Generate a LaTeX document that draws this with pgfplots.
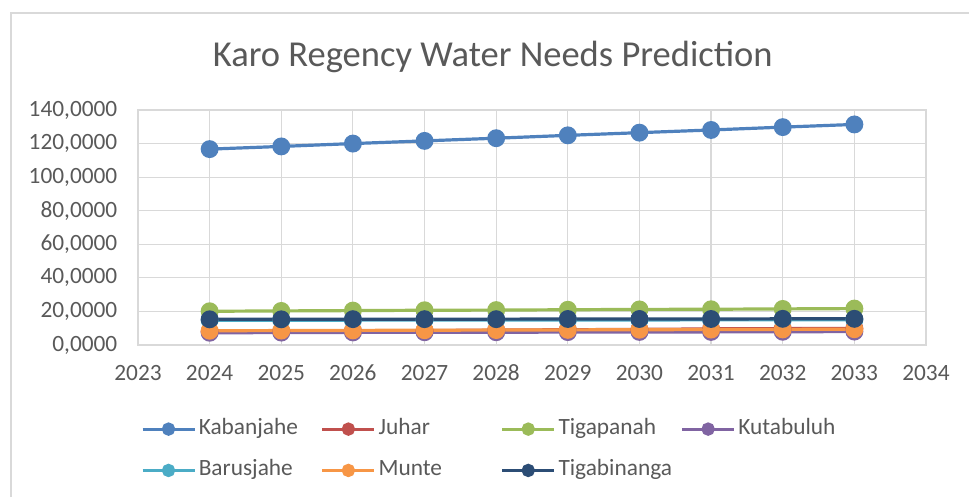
\documentclass[border=0pt]{standalone}
\usepackage{pgfplots}
\pgfplotsset{compat=1.18}
\usepackage{fontspec}
\setmainfont{Carlito}
\definecolor{cK}{HTML}{4F81BD}
\definecolor{cJ}{HTML}{C0504D}
\definecolor{cT}{HTML}{9BBB59}
\definecolor{cKu}{HTML}{8064A2}
\definecolor{cB}{HTML}{4BACC6}
\definecolor{cM}{HTML}{F79646}
\definecolor{cTb}{HTML}{2C4D75}
\definecolor{gridc}{HTML}{D9D9D9}
\definecolor{txt}{HTML}{595959}
\begin{document}
\begin{tikzpicture}
\path[use as bounding box] (0,0) rectangle (726.75pt,372.75pt);
\draw[gridc, line width=1.2pt] (8.25pt,0) -- (8.25pt,363pt) -- (726.75pt,363pt);
\node[font=\fontsize{27.4}{32}\selectfont, text=txt] at (369.5pt,330pt) {Karo Regency Water Needs Prediction};
\begin{axis}[
  at={(103.5pt,114pt)}, anchor=south west,
  scale only axis, width=591pt, height=176.25pt,
  xmin=2023, xmax=2034, ymin=0, ymax=140,
  xtick={2023,...,2034}, ytick={0,20,...,140},
  grid=major, grid style={gridc, line width=0.9pt},
  axis line style={gridc, line width=0.9pt},
  major tick length=0pt,
  tick label style={font=\fontsize{17.5}{21}\selectfont, text=txt},
  /pgf/number format/assume math mode=true,
  xticklabel style={/pgf/number format/1000 sep={}, yshift=-11.5pt},
  yticklabel style={/pgf/number format/.cd, fixed, fixed zerofill, precision=4, use comma, 1000 sep={}, /tikz/.cd, xshift=-12pt},
  every axis plot/.append style={line width=2.4pt, mark=*, mark size=5.5pt},
  legend columns=4,
  legend image code/.code={\draw[mark repeat=2, mark phase=2, #1, mark size=3.8pt] plot coordinates {(0pt,0pt) (19.5pt,0pt) (39pt,0pt)};},
  legend style={draw=none, fill=none, at={(-0.0017,-0.30)}, anchor=north west,
    font=\fontsize{17.5}{21}\selectfont, text=txt,
    nodes={text height=12pt, text depth=4pt, inner ysep=0pt, inner xsep=2pt},
    row sep=15pt, column sep=0pt},
]
\addplot[cK, mark options={fill=cK}] coordinates {(2024,116.7) (2025,118.3) (2026,120.0) (2027,121.6) (2028,123.2) (2029,124.9) (2030,126.5) (2031,128.1) (2032,129.8) (2033,131.4)};
\addlegendentry{\makebox[89.5pt][l]{Kabanjahe}}
\addplot[cJ, mark options={fill=cJ}] coordinates {(2024,8.0) (2025,8.2) (2026,8.4) (2027,8.6) (2028,8.9) (2029,9.1) (2030,9.3) (2031,9.6) (2032,9.8) (2033,9.9)};
\addlegendentry{\makebox[89.5pt][l]{Juhar}}
\addplot[cT, mark options={fill=cT}] coordinates {(2024,20.1) (2025,20.3) (2026,20.5) (2027,20.7) (2028,20.8) (2029,21.0) (2030,21.2) (2031,21.3) (2032,21.5) (2033,21.7)};
\addlegendentry{\makebox[89.5pt][l]{Tigapanah}}
\addplot[cKu, mark options={fill=cKu}] coordinates {(2024,7.3) (2025,7.4) (2026,7.5) (2027,7.6) (2028,7.6) (2029,7.7) (2030,7.8) (2031,7.8) (2032,7.9) (2033,8.0)};
\addlegendentry{\makebox[89.5pt][l]{Kutabuluh}}
\addplot[cB, mark options={fill=cB}] coordinates {(2024,14.8) (2025,14.8) (2026,14.8) (2027,14.9) (2028,14.9) (2029,14.9) (2030,14.9) (2031,15.0) (2032,15.0) (2033,15.0)};
\addlegendentry{\makebox[89.5pt][l]{Barusjahe}}
\addplot[cM, mark options={fill=cM}] coordinates {(2024,8.5) (2025,8.6) (2026,8.7) (2027,8.8) (2028,8.9) (2029,9.0) (2030,9.1) (2031,9.2) (2032,9.3) (2033,9.4)};
\addlegendentry{\makebox[89.5pt][l]{Munte}}
\addplot[cTb, mark options={fill=cTb}] coordinates {(2024,15.3) (2025,15.3) (2026,15.4) (2027,15.4) (2028,15.4) (2029,15.5) (2030,15.5) (2031,15.5) (2032,15.6) (2033,15.6)};
\addlegendentry{\makebox[89.5pt][l]{Tigabinanga}}
\end{axis}
\end{tikzpicture}
\end{document}
